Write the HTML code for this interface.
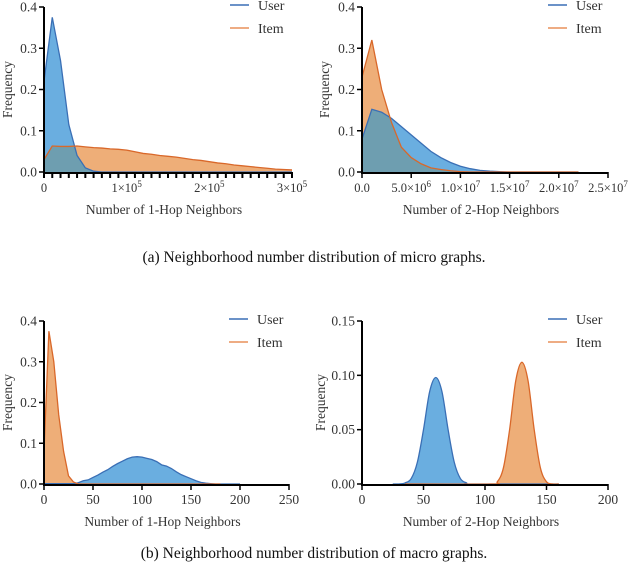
<!DOCTYPE html>
<html><head><meta charset="utf-8"><style>
body{margin:0;background:#fff;width:628px;height:580px;overflow:hidden}
svg{display:block}
text{font-family:"Liberation Serif",serif;fill:#333}
</style></head><body>
<svg id="s" width="628" height="580" xmlns="http://www.w3.org/2000/svg">
<text x="314" y="262" text-anchor="middle" style="font-size:15.5px;fill:#111">(a)  Neighborhood number distribution of micro graphs.</text>
<text x="314" y="558" text-anchor="middle" style="font-size:15.5px;fill:#111">(b)  Neighborhood number distribution of macro graphs.</text>
</svg>
<script>
// chart A: micro 1-hop (x in units of 1e4)
const aUserX=[0,1,2,3,4,5,6,7,30];
const aUserY=[0.22,0.375,0.27,0.115,0.04,0.01,0.002,0,0];
const aItemX=[0,1,2,3,4,5,6,7,8,9,10,11,12,13,14,15,16,17,18,19,20,21,22,23,24,25,26,27,28,29,30];
const aItemY=[0.03,0.063,0.062,0.062,0.063,0.061,0.059,0.058,0.056,0.055,0.053,0.049,0.045,0.043,0.040,0.038,0.036,0.033,0.030,0.028,0.025,0.022,0.020,0.017,0.015,0.013,0.011,0.009,0.007,0.006,0.005];
// chart B: micro 2-hop (x in units of 1e6)
const bUserX=[0,1,2,3,4,5,6,7,8,9,10,11,12,13,14,15,22];
const bUserY=[0.08,0.152,0.145,0.13,0.11,0.09,0.07,0.05,0.035,0.023,0.014,0.008,0.004,0.002,0.001,0,0];
const bItemX=[0,1,2,3,4,5,6,7,8,9,10,11,22];
const bItemY=[0.23,0.32,0.2,0.12,0.06,0.035,0.02,0.01,0.006,0.003,0.001,0,0];
// chart C: macro 1-hop
const cUserX=[0,30,35,40,45,50,55,60,65,70,75,80,85,90,95,100,105,110,115,120,125,130,135,140,145,150,155,160,165,170,175,200];
const cUserY=[0.001,0.001,0.003,0.008,0.01,0.016,0.022,0.029,0.035,0.043,0.05,0.056,0.062,0.066,0.067,0.066,0.063,0.06,0.055,0.047,0.044,0.038,0.03,0.023,0.018,0.013,0.008,0.004,0.002,0.001,0,0];
const cItemX=[0,5,10,15,20,25,30,35,180];
const cItemY=[0.08,0.375,0.3,0.17,0.08,0.02,0.005,0,0];
// chart D: macro 2-hop
const dUserX=[25,30,35,40,45,50,55,60,65,70,75,80,85,90,160];
const dUserY=[0,0,0.001,0.005,0.02,0.05,0.085,0.098,0.085,0.05,0.02,0.005,0.001,0,0];
const dItemX=[35,105,110,115,120,125,130,135,140,145,150,155,160];
const dItemY=[0,0,0.002,0.015,0.05,0.095,0.112,0.095,0.05,0.015,0.002,0,0];
// tick labels
const aXTicks=[0,10,20,30];const aXLabels=["0","1×10","2×10","3×10"];const aXExp=["","5","5","5"];
const bXTicks=[0,5,10,15,20,25];const bXLabels=["0.0","5.0×10","1.0×10","1.5×10","2.0×10","2.5×10"];const bXExp=["","6","7","7","7","7"];
const cXTicks=[0,50,100,150,200,250];
const dXTicks=[0,50,100,150,200];
const yTicks4=[0,0.1,0.2,0.3,0.4];const yLabels4=["0.0","0.1","0.2","0.3","0.4"];
const yTicksD=[0,0.05,0.1,0.15];const yLabelsD=["0.00","0.05","0.10","0.15"];

const NS="http://www.w3.org/2000/svg";const svg=document.getElementById('s');
function mk(tag,attrs,parent){const e=document.createElementNS(NS,tag);for(const k in attrs)e.setAttribute(k,attrs[k]);(parent||svg).appendChild(e);return e;}
const BLUE_F="#6aaee0",BLUE_S="#3a6fb5",ORG_F="#eeae78",ORG_S="#d9682a",OVL="#6e9eb0";
function linPath(xs,ys,sx,sy){return xs.map((x,i)=>(i?'L':'M')+sx(x).toFixed(2)+','+sy(ys[i]).toFixed(2)).join('');}
function smoothPath(xs,ys,sx,sy){const p=xs.map((x,i)=>[sx(x),sy(ys[i])]);let d='M'+p[0][0]+','+p[0][1];
 for(let i=0;i<p.length-1;i++){const p0=p[i-1]||p[i],p1=p[i],p2=p[i+1],p3=p[i+2]||p2;
 d+='C'+(p1[0]+(p2[0]-p0[0])/6)+','+(p1[1]+(p2[1]-p0[1])/6)+','+(p2[0]-(p3[0]-p1[0])/6)+','+(p2[1]-(p3[1]-p1[1])/6)+','+p2[0]+','+p2[1];}return d;}
let cid=0;
function chart(o){
 const g=mk('g',{});
 
 
 const sx=v=>o.x0+(v-o.xmin)/(o.xmax-o.xmin)*(o.x1-o.x0);
 const sy=v=>o.y0-(v/o.ymax)*(o.y0-o.y1);
 const P=o.smooth?smoothPath:linPath;
 const area=(xs,ys)=>P(xs,ys,sx,sy)+'L'+sx(xs[xs.length-1])+','+sy(0)+'L'+sx(xs[0])+','+sy(0)+'Z';
 const uA=area(o.ux,o.uy),iA=area(o.ix,o.iy);
 const id='clip'+(cid++);
 const cp=mk('clipPath',{id:id},g);mk('path',{d:iA},cp);
 const ia=mk('path',{d:iA,fill:ORG_F},g);
 
 
 const ua=mk('path',{d:uA,fill:BLUE_F},g);
 
 
 mk('path',{d:uA,fill:OVL,'clip-path':'url(#'+id+')'},g);
 const ul=mk('path',{d:P(o.ux,o.uy,sx,sy),fill:'none',stroke:BLUE_S,'stroke-width':1.3},g);
 
 
 const il=mk('path',{d:P(o.ix,o.iy,sx,sy),fill:'none',stroke:ORG_S,'stroke-width':1.3},g);
 
 
 const ax=mk('path',{d:'M'+o.x0+','+o.y1+'L'+o.x0+','+(o.y0+1)+'L'+o.x1+','+(o.y0+1),fill:'none',stroke:'#000','stroke-width':2},g);
 
 
 o.yt.forEach((v,i)=>{mk('line',{x1:o.x0-5,x2:o.x0,y1:sy(v),y2:sy(v),stroke:'#000','stroke-width':1.5},g);
  const t=mk('text',{x:o.x0-7,y:sy(v)+4.5,'text-anchor':'end','font-size':'13.5'},g);t.textContent=o.yl[i];
  
  });
 if(o.minor)o.minor.forEach(v=>mk('line',{x1:sx(v),x2:sx(v),y1:o.y0,y2:o.y0+6,stroke:'#000','stroke-width':2},g));
 o.xt.forEach((v,i)=>{mk('line',{x1:sx(v),x2:sx(v),y1:o.y0,y2:o.y0+6,stroke:'#000','stroke-width':1.5},g);
  const t=mk('text',{x:sx(v),y:o.y0+20,'text-anchor':'middle','font-size':o.xfs||'13.5'},g);t.textContent=o.xl[i];
  if(o.xe&&o.xe[i]){const s=mk('tspan',{dy:-5,'font-size':'9'},t);s.textContent=o.xe[i];}
  
  });
 const xt=mk('text',{x:(o.x0+o.x1)/2-4,y:o.y0+42,'text-anchor':'middle','font-size':'13.5'},g);xt.textContent=o.xtitle;
 
 
 const yy=(o.y0+o.y1)/2;const yt=mk('text',{x:0,y:0,'text-anchor':'middle','font-size':'13.5',transform:'translate('+o.ytx+','+yy+') rotate(-90)'},g);yt.textContent='Frequency';
 
 
 [['User',BLUE_S,0],['Item','#e8905a',23]].forEach(([n,c,dy])=>{
  const lg=mk('g',{},g);
  
  
  mk('line',{x1:o.lx,x2:o.lx+19,y1:o.ly+dy,y2:o.ly+dy,stroke:c,'stroke-width':1.5},lg);
  const t=mk('text',{x:o.lx+28,y:o.ly+dy+5,'font-size':'14'},lg);t.textContent=n;});
}
chart({name:'chart-micro-1hop',x0:44,x1:292,xmin:0,xmax:30,y0:172,y1:7,ymax:0.4,ux:aUserX,uy:aUserY,ix:aItemX,iy:aItemY,
 yt:yTicks4,yl:yLabels4,xt:aXTicks,xl:aXLabels,xe:aXExp,minor:aItemX,xtitle:'Number of 1-Hop Neighbors',lx:230,ly:5,xfs:'12.5',ytx:12});
chart({name:'chart-micro-2hop',x0:362,x1:608,xmin:0,xmax:25,y0:172,y1:7,ymax:0.4,ux:bUserX,uy:bUserY,ix:bItemX,iy:bItemY,
 yt:yTicks4,yl:yLabels4,xt:bXTicks,xl:bXLabels,xe:bXExp,xtitle:'Number of 2-Hop Neighbors',lx:548,ly:5,xfs:'12.5',ytx:329});
chart({name:'chart-macro-1hop',x0:44,x1:289,xmin:0,xmax:250,y0:484,y1:321,ymax:0.4,ux:cUserX,uy:cUserY,ix:cItemX,iy:cItemY,
 yt:yTicks4,yl:yLabels4,xt:cXTicks,xl:cXTicks.map(String),xtitle:'Number of 1-Hop Neighbors',lx:229,ly:319,ytx:12});
chart({name:'chart-macro-2hop',x0:362,x1:608,xmin:0,xmax:200,y0:484,y1:321,ymax:0.15,ux:dUserX,uy:dUserY,ix:dItemX,iy:dItemY,smooth:true,
 yt:yTicksD,yl:yLabelsD,xt:dXTicks,xl:dXTicks.map(String),xtitle:'Number of 2-Hop Neighbors',lx:548,ly:319,ytx:325});
</script>
</body></html>
